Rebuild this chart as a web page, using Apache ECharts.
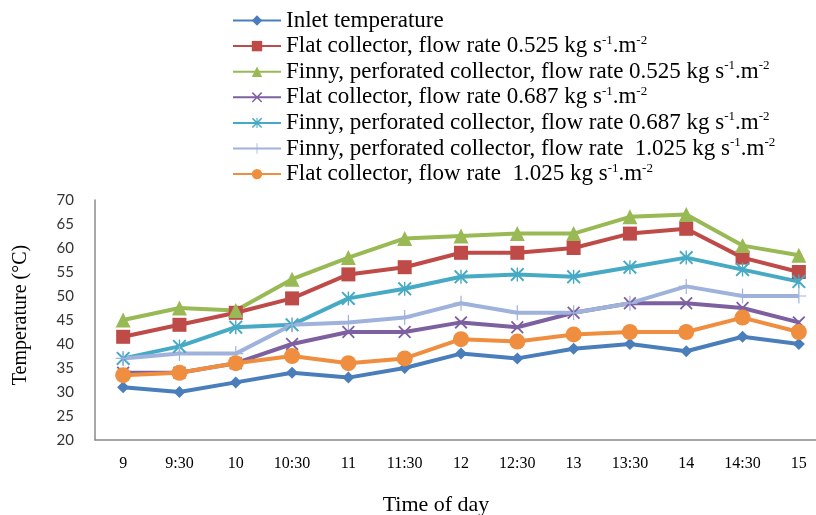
<!DOCTYPE html>
<html>
<head>
<meta charset="utf-8">
<script src="https://cdn.jsdelivr.net/npm/echarts@6/dist/echarts.min.js"></script>
<style>html,body{margin:0;padding:0;background:#fff;}#c{width:816px;height:515px;}</style>
</head>
<body>
<div id="c"></div>
<script>
const categories = ['9','9:30','10','10:30','11','11:30','12','12:30','13','13:30','14','14:30','15'];
const yTicks = [20,25,30,35,40,45,50,55,60,65,70];

const inletTemp      = [31, 30, 32, 34, 33, 35, 38, 37, 39, 40, 38.5, 41.5, 40];
const flat0525       = [41.5, 44, 46.5, 49.5, 54.5, 56, 59, 59, 60, 63, 64, 58, 55];
const finny0525      = [45, 47.5, 47, 53.5, 58, 62, 62.5, 63, 63, 66.5, 67, 60.5, 58.5];
const flat0687       = [34, 34, 36, 40, 42.5, 42.5, 44.5, 43.5, 46.5, 48.5, 48.5, 47.5, 44.5];
const finny0687      = [37, 39.5, 43.5, 44, 49.5, 51.5, 54, 54.5, 54, 56, 58, 55.5, 53];
const finny1025      = [37, 38, 38, 44, 44.5, 45.5, 48.5, 46.5, 46.5, 48.5, 52, 50, 50];
const flat1025       = [33.5, 34, 36, 37.5, 36, 37, 41, 40.5, 42, 42.5, 42.5, 45.5, 42.5];

const names = [
  'Inlet temperature',
  'Flat collector, flow rate 0.525 kg s-1.m-2',
  'Finny, perforated collector, flow rate 0.525 kg s-1.m-2',
  'Flat collector, flow rate 0.687 kg s-1.m-2',
  'Finny, perforated collector, flow rate 0.687 kg s-1.m-2',
  'Finny, perforated collector, flow rate  1.025 kg s-1.m-2',
  'Flat collector, flow rate  1.025 kg s-1.m-2'
];
const seriesData = [inletTemp, flat0525, finny0525, flat0687, finny0687, finny1025, flat1025];
const colors = ['#4A7EBB', '#BE4B48', '#98B954', '#7D60A0', '#46AAC5', '#9FB2DB', '#EE8E3E'];

const X_PATH = 'path://M0,1 L1,0 L5,4 L9,0 L10,1 L6,5 L10,9 L9,10 L5,6 L1,10 L0,9 L4,5 Z';
const STAR_PATH = 'path://M0,1 L1,0 L5,4 L9,0 L10,1 L6,5 L10,9 L9,10 L5,6 L1,10 L0,9 L4,5 Z M4.5,0 L5.5,0 L5.5,10 L4.5,10 Z';
const PLUS_PATH = 'path://M4.6,0 L5.4,0 L5.4,4.6 L10,4.6 L10,5.4 L5.4,5.4 L5.4,10 L4.6,10 L4.6,5.4 L0,5.4 L0,4.6 L4.6,4.6 Z';
const symbols = ['diamond', 'rect', 'triangle', X_PATH, STAR_PATH, PLUS_PATH, 'circle'];
const sizes = [12, 14, 15, 13, 14, 15, 16];

const chart = echarts.init(document.getElementById('c'), null, {renderer: 'canvas'});
chart.setOption({
  animation: false,
  backgroundColor: '#fff',
  color: colors,
  grid: {left: 95, top: 200, width: 732, bottom: 75, containLabel: false, outerBoundsMode: 'none'},
  legend: {
    orient: 'vertical',
    left: 232,
    top: 8,
    padding: 0,
    itemWidth: 48,
    itemHeight: 13,
    itemGap: 0.6,
    data: names,
    formatter: n => n.replace('s-1.m-2', 's{sup|-1}.m{sup|-2}'),
    textStyle: {
      fontFamily: 'Liberation Serif',
      fontSize: 23,
      lineHeight: 25,
      color: '#000',
      rich: {
        sup: {fontFamily: 'Liberation Serif', fontSize: 13, lineHeight: 25, color: '#000', verticalAlign: 'top', padding: [0, 0, 0, 0]}
      }
    }
  },
  xAxis: {
    type: 'category',
    data: categories,
    boundaryGap: true,
    name: 'Time of day',
    nameLocation: 'middle',
    nameGap: 54,
    nameTextStyle: {fontFamily: 'Liberation Serif', fontSize: 22, color: '#000', padding: [0, 50, 0, 0]},
    axisLine: {lineStyle: {color: '#8a8a8a', width: 1.5}},
    axisTick: {show: false},
    axisLabel: {fontFamily: 'Liberation Serif', fontSize: 16, color: '#000', margin: 16, interval: 0}
  },
  yAxis: {
    type: 'value',
    min: 20,
    max: 70,
    interval: 5,
    name: 'Temperature (°C)',
    nameLocation: 'middle',
    nameRotate: 90,
    nameGap: 64,
    nameTextStyle: {fontFamily: 'Liberation Serif', fontSize: 20, color: '#000', padding: [0, 0, 0, 10]},
    axisLine: {show: true, lineStyle: {color: '#8a8a8a', width: 1.5}},
    axisTick: {show: false},
    splitLine: {show: false},
    axisLabel: {fontFamily: 'Lato', fontSize: 15, color: '#333', margin: 21,
      formatter: v => yTicks.includes(v) ? String(v) : ''}
  },
  series: seriesData.map((d, i) => ({
    name: names[i],
    type: 'line',
    data: d,
    symbol: symbols[i],
    symbolSize: sizes[i],
    showSymbol: true,
    lineStyle: {width: 4, color: colors[i]},
    itemStyle: {color: colors[i], borderWidth: 0},
    emphasis: {disabled: true}
  }))
});
</script>
</body>
</html>
